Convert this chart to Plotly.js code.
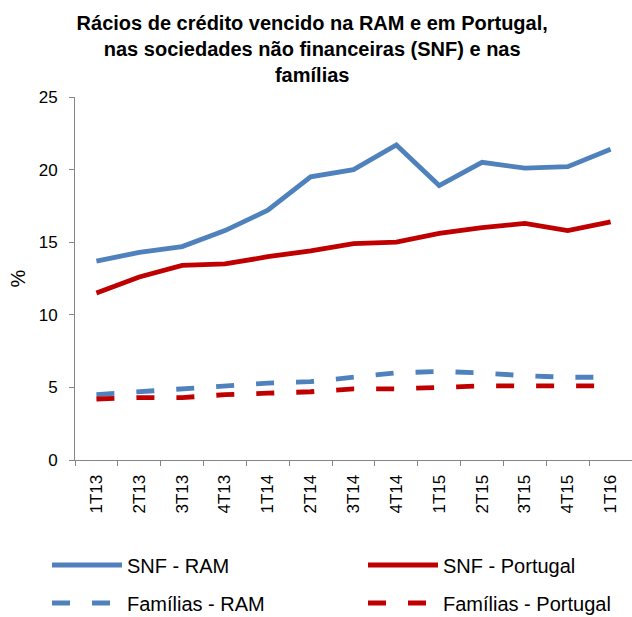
<!DOCTYPE html>
<html>
<head>
<meta charset="utf-8">
<script src="https://cdn.plot.ly/plotly-3.0.1.min.js"></script>
<style>html,body{margin:0;padding:0;background:#fff;}#chart{width:632px;height:617px;}</style>
</head>
<body>
<div id="chart"></div>
<script>
const categories = ["1T13","2T13","3T13","4T13","1T14","2T14","3T14","4T14","1T15","2T15","3T15","4T15","1T16"];
const snfRAM = [13.7, 14.3, 14.7, 15.8, 17.2, 19.5, 20.0, 21.7, 18.9, 20.5, 20.1, 20.2, 21.4];
const snfPortugal = [11.5, 12.6, 13.4, 13.5, 14.0, 14.4, 14.9, 15.0, 15.6, 16.0, 16.3, 15.8, 16.4];
const familiasRAM = [4.5, 4.7, 4.9, 5.1, 5.3, 5.4, 5.7, 6.0, 6.1, 6.0, 5.8, 5.7, 5.7];
const familiasPortugal = [4.2, 4.3, 4.3, 4.5, 4.6, 4.7, 4.9, 4.9, 5.0, 5.1, 5.1, 5.1, 5.1];
const yTicks = [0, 5, 10, 15, 20, 25];

const BLUE = "#4F81BD", RED = "#C00000";
const FONT = "Liberation Sans, Arial, sans-serif";
const DASH = "18px,22px";

const traces = [
  {x: categories, y: snfRAM, name: "SNF - RAM", type: "scatter", mode: "lines",
   line: {color: BLUE, width: 4.8}, legend: "legend"},
  {x: categories, y: snfPortugal, name: "SNF - Portugal", type: "scatter", mode: "lines",
   line: {color: RED, width: 4.8}, legend: "legend2"},
  {x: categories, y: familiasRAM, name: "Famílias - RAM", type: "scatter", mode: "lines",
   line: {color: BLUE, width: 4.8, dash: DASH}, legend: "legend3"},
  {x: categories, y: familiasPortugal, name: "Famílias - Portugal", type: "scatter", mode: "lines",
   line: {color: RED, width: 4.8, dash: DASH}, legend: "legend4"}
];

function leg(xpx, ypx) {
  return {
    orientation: "h", xref: "container", yref: "container", xanchor: "left", yanchor: "middle",
    x: xpx/632, y: 1 - ypx/617, itemwidth: 70,
    font: {family: FONT, size: 20, color: "#000"}, bgcolor: "rgba(0,0,0,0)"
  };
}

const layout = {
  width: 632, height: 617,
  margin: {l: 75, r: 0, t: 97, b: 157},
  paper_bgcolor: "#fff", plot_bgcolor: "#fff",
  font: {family: FONT, color: "#000"},
  title: {
    text: "<b>Rácios de crédito vencido na RAM e em Portugal,<br>nas sociedades não financeiras (SNF) e nas<br>famílias</b>",
    font: {family: FONT, size: 20, color: "#000"},
    xref: "container", x: 0.494, xanchor: "center",
    yref: "container", y: 1 - 30/617, yanchor: "top"
  },
  xaxis: {
    type: "category", range: [-0.5, 12.5],
    showline: true, linecolor: "#868686", linewidth: 1,
    ticks: "outside", tickson: "boundaries", ticklen: 5, tickcolor: "#868686",
    tickangle: -90, tickfont: {family: FONT, size: 17, color: "#000"},
    ticklabelstandoff: 7,
    showgrid: false, zeroline: false, fixedrange: true
  },
  yaxis: {
    range: [0, 25], tickvals: yTicks, ticktext: yTicks.map(String),
    showline: true, linecolor: "#868686", linewidth: 1,
    ticks: "outside", ticklen: 5, tickcolor: "#868686",
    tickfont: {family: FONT, size: 17, color: "#000"},
    ticklabelstandoff: 8,
    showgrid: false, zeroline: false,
    title: {text: "%", font: {family: FONT, size: 20, color: "#000"}, standoff: 7}
  },
  showlegend: true,
  legend: leg(47, 565),
  legend2: leg(363, 565),
  legend3: leg(47, 603),
  legend4: leg(363, 603)
};

Plotly.newPlot("chart", traces, layout, {displayModeBar: false, staticPlot: true});
</script>
</body>
</html>
